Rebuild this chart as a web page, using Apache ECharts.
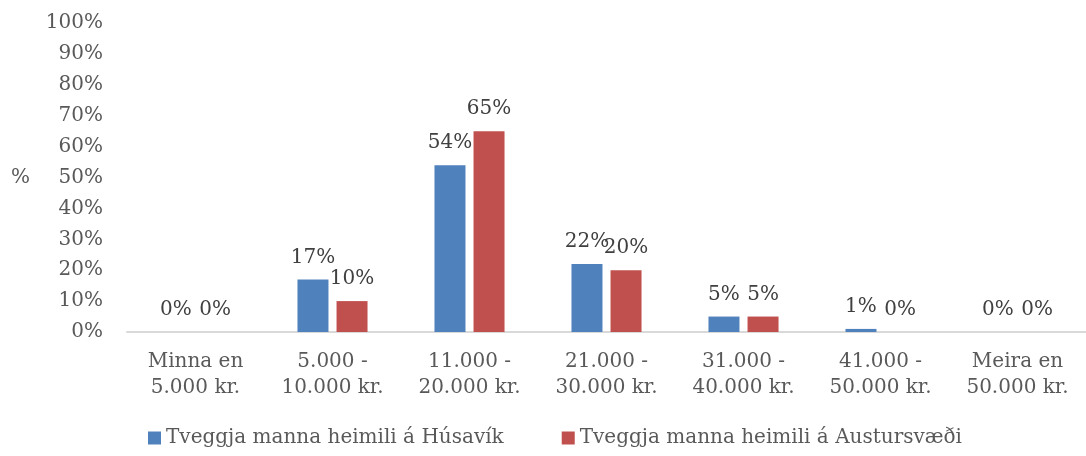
<!DOCTYPE html>
<html>
<head>
<meta charset="utf-8">
<script src="https://cdn.jsdelivr.net/npm/echarts@6/dist/echarts.min.js"></script>
<style>
html,body{margin:0;padding:0;background:#fff;}
#main{width:1086px;height:456px;}
</style>
</head>
<body>
<div id="main"></div>
<script>
// flokkar og gildi
var categories = ['Minna en\n5.000 kr.', '5.000 -\n10.000 kr.', '11.000 -\n20.000 kr.', '21.000 -\n30.000 kr.', '31.000 -\n40.000 kr.', '41.000 -\n50.000 kr.', 'Meira en\n50.000 kr.'];
var seriesNames = ['Tveggja manna heimili á Húsavík', 'Tveggja manna heimili á Austursvæði'];
var husavik = [0, 17, 54, 22, 5, 1, 0];
var austursvaedi = [0, 10, 65, 20, 5, 0, 0];

var font = 'DejaVu Serif';
var myChart = echarts.init(document.getElementById('main'));

var barLabel = {
    show: true,
    position: 'top',
    distance: 12,
    fontFamily: font,
    fontSize: 20,
    color: '#404040',
    formatter: '{c}%'
};

var option = {
    animation: false,
    color: ['#4F81BD', '#C0504D'],
    textStyle: { fontFamily: font },
    legend: {
        bottom: 3,
        left: 143,
        itemWidth: 13,
        itemHeight: 13,
        itemGap: 58,
        icon: 'rect',
        textStyle: { fontFamily: font, fontSize: 20, color: '#595959' },
        data: seriesNames
    },
    grid: {
        top: 23,
        left: 127,
        right: -11,
        bottom: 124
    },
    xAxis: {
        type: 'category',
        data: categories,
        axisLine: { lineStyle: { color: '#D9D9D9', width: 2 } },
        axisTick: { show: false },
        axisLabel: {
            interval: 0,
            margin: 17,
            fontFamily: font,
            fontSize: 20,
            lineHeight: 26,
            color: '#595959'
        }
    },
    yAxis: {
        type: 'value',
        min: 0,
        max: 100,
        interval: 10,
        name: '%',
        nameLocation: 'middle',
        nameRotate: 0,
        nameGap: 97,
        nameTextStyle: { fontFamily: font, fontSize: 20, color: '#595959', padding: [8, 0, 0, 0] },
        splitLine: { show: false },
        axisLine: { show: false },
        axisTick: { show: false },
        axisLabel: {
            margin: 24,
            fontFamily: font,
            fontSize: 20,
            color: '#595959',
            formatter: '{value}%'
        }
    },
    series: [
        {
            name: seriesNames[0],
            type: 'bar',
            data: husavik,
            barWidth: 31,
            barGap: '26%',
            label: barLabel
        },
        {
            name: seriesNames[1],
            type: 'bar',
            data: austursvaedi,
            barWidth: 31,
            barGap: '26%',
            label: barLabel
        }
    ]
};

myChart.setOption(option);
</script>
</body>
</html>
